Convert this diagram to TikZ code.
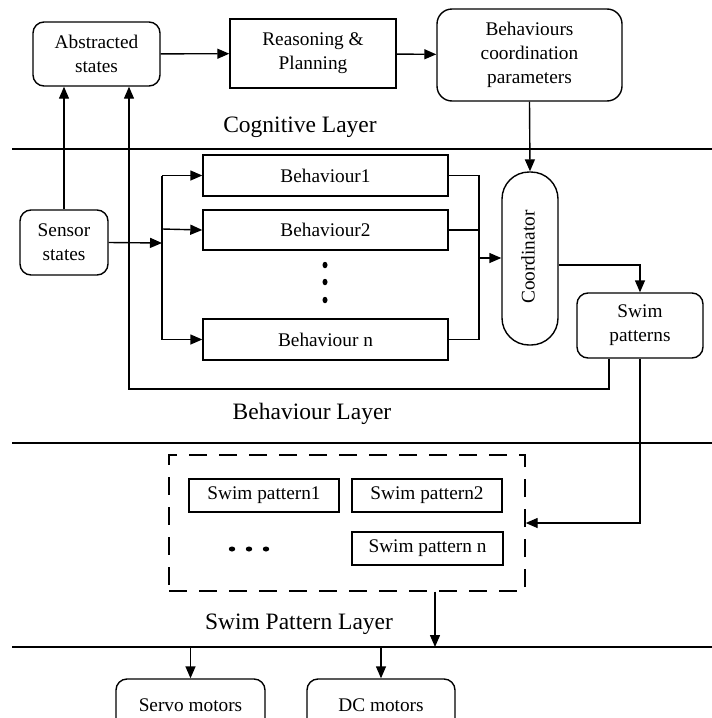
\documentclass[tikz,border=0pt]{standalone}
\usepackage{fontspec}
\setmainfont{Liberation Serif}
\usetikzlibrary{arrows.meta,calc,shapes.geometric}
\begin{document}
\begin{tikzpicture}[x=1pt,y=-1pt,
  line width=1.4pt,
  every node/.style={font=\fontsize{19.3}{24}\selectfont, inner sep=0pt, align=center},
  box/.style={draw, line width=1.4pt},
  rbox/.style={draw, line width=1.4pt, rounded corners=11pt},
  layer/.style={font=\fontsize{23.5}{28}\selectfont},
  arr/.style={-{Triangle[length=12pt,width=10pt]}},
  sep/.style={line width=1.4pt},
  dot/.style={fill=black, ellipse, inner sep=0pt}
]
\useasboundingbox (0,0) rectangle (712,718);
\clip (0,0) rectangle (712,718);
\fill[white] (0,0) rectangle (712,718);

% separator lines
\draw[sep] (12,149) -- (712,149);
\draw[sep] (12,443) -- (712,443);
\draw[sep] (12,647) -- (712,647);

% layer labels
\node[layer] (lcog) at (300,127) {Cognitive Layer};
\node[layer] (lbeh) at (312,414) {Behaviour Layer};
\node[layer] (lswim) at (299,624) {Swim Pattern Layer};

% cognitive layer
\node[rbox, minimum width=127pt, minimum height=64pt] (abs) at (96.5,54) {Abstracted\\states};
\node[box, minimum width=166pt, minimum height=69pt] (rp) at (313,53.5) {Reasoning \&\\Planning};
\node[rbox, rounded corners=15pt, minimum width=185pt, minimum height=92pt] (bcp) at (529.5,55) {Behaviours\\coordination\\parameters};

% behaviour layer
\node[rbox, minimum width=88pt, minimum height=65pt] (sen) at (64,242.5) {Sensor\\states};
\node[box, minimum width=245pt, minimum height=41pt] (b1) at (325.5,175.5) {Behaviour1};
\node[box, minimum width=245pt, minimum height=40pt] (b2) at (325.5,230) {Behaviour2};
\node[box, minimum width=245pt, minimum height=41pt] (bn) at (325.5,339.5) {Behaviour n};
\node[dot, minimum width=5pt, minimum height=6.5pt] (vd1) at (325,265) {};
\node[dot, minimum width=5pt, minimum height=6.5pt] (vd2) at (325,282) {};
\node[dot, minimum width=5pt, minimum height=6.5pt] (vd3) at (325,300) {};
\node[draw, line width=1.4pt, rounded corners=27pt, minimum width=56pt, minimum height=173pt] (coord) at (530,258.5) {};
\node[rotate=90] (coordtxt) at (528,257) {Coordinator};
\node[rbox, minimum width=126pt, minimum height=65pt] (swp) at (640,325.5) {Swim\\patterns};

% swim pattern layer
\node[draw, line width=1.4pt, dash pattern=on 18pt off 12pt, minimum width=356pt, minimum height=136pt] (dbox) at (347,523) {};
\node[box, minimum width=150pt, minimum height=33pt] (sp1) at (264,495.5) {Swim pattern1};
\node[box, minimum width=150pt, minimum height=33pt] (sp2) at (427,495.5) {Swim pattern2};
\node[box, minimum width=151pt, minimum height=33pt] (spn) at (427.5,548.5) {Swim pattern n};
\node[dot, minimum width=6.5pt, minimum height=5pt] (hd1) at (232,549) {};
\node[dot, minimum width=6.5pt, minimum height=5pt] (hd2) at (249,549) {};
\node[dot, minimum width=6.5pt, minimum height=5pt] (hd3) at (266,549) {};

% motors
\node[rbox, minimum width=149pt, minimum height=52pt] (servo) at (190.5,705) {Servo motors};
\node[rbox, minimum width=148pt, minimum height=52pt] (dc) at (381,705) {DC motors};

% coordinates
\coordinate (busL) at (162,243);
\coordinate (busR) at (479,258);
\coordinate (fb) at (129,389);
\coordinate (l3a) at (435,647);

% connectors
\draw[arr] (abs) -- (rp);
\draw[arr] (rp) -- (bcp);
\draw[arr] (sen.north) -- (sen.north |- abs.south);
\draw[arr] ([xshift=-31pt]swp.south) |- (fb) -- (fb |- abs.south);
\draw[arr] (sen.east) -- (busL);
\draw (b1.west -| busL) -- (bn.west -| busL);
\draw[arr] (b1.west -| busL) -- (b1.west);
\draw[arr] ($(b2.west -| busL)+(0,-1)$) -- (b2.west);
\draw[arr] (bn.west -| busL) -- (bn.west);
\draw (b1.east) -| (busR);
\draw (bn.east) -| (busR);
\draw (b2.east) -- (b2.east -| busR);
\draw[arr] (busR) -- (coord.west |- busR);
\draw[arr] (bcp.south) -- (coord.north);
\draw[arr] ([yshift=-6.5pt]coord.east) -| (swp.north);
\draw[arr] (swp.south) |- (dbox.east);
\draw[arr] (dbox.south -| l3a) -- (l3a);
\draw[arr] (servo.north |- l3a) -- (servo.north);
\draw[arr] (dc.north |- l3a) -- (dc.north);
\end{tikzpicture}
\end{document}
